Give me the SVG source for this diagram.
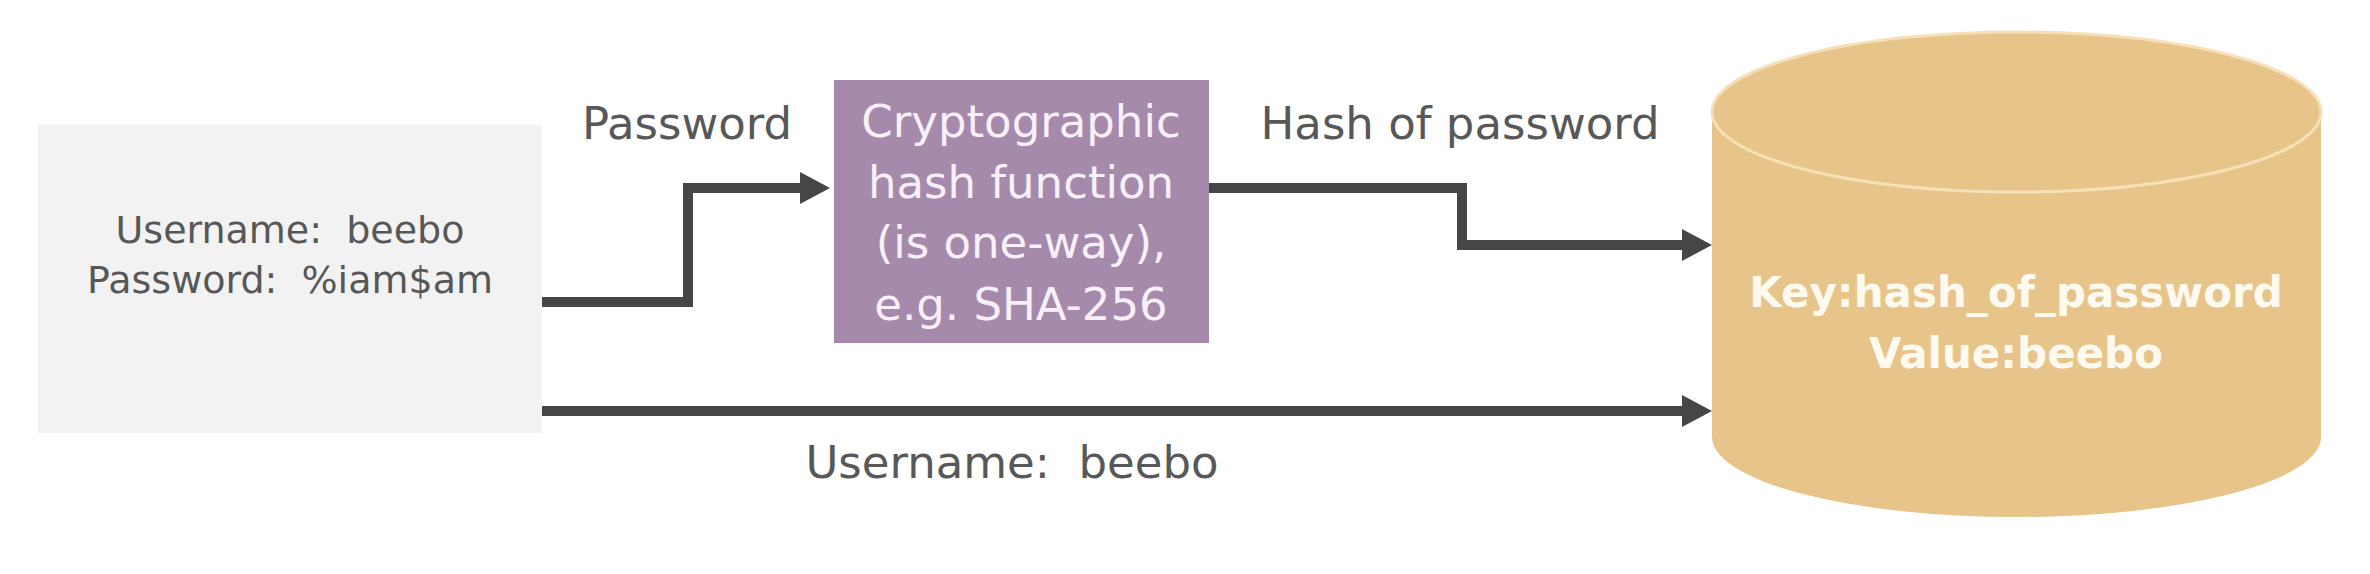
<svg xmlns="http://www.w3.org/2000/svg" width="2370" height="574" viewBox="0 0 2370 574">
  <style>
    .lbl { font-family: "DejaVu Sans", "Liberation Sans", sans-serif; font-size: 45px; fill: #585858; text-anchor: middle; }
    .box { font-family: "DejaVu Sans", "Liberation Sans", sans-serif; font-size: 38px; fill: #575757; text-anchor: middle; }
    .hash { font-family: "DejaVu Sans", "Liberation Sans", sans-serif; font-size: 45px; fill: #f8f0f8; text-anchor: middle; }
    .db { font-family: "DejaVu Sans", "Liberation Sans", sans-serif; font-size: 42px; font-weight: bold; fill: #fffaf0; text-anchor: middle; }
    .conn { fill: none; stroke: #464646; stroke-width: 10; stroke-linejoin: miter; marker-end: url(#ah); }
  </style>
  <defs>
    <marker id="ah" markerUnits="userSpaceOnUse" viewBox="0 0 30 32" markerWidth="30" markerHeight="32" refX="15" refY="16" orient="auto">
      <path d="M0,0 L30,16 L0,32 Z" fill="#464646"/>
    </marker>
  </defs>
  <rect width="2370" height="574" fill="#ffffff"/>

  <g id="credentials">
    <rect x="38" y="125" width="504" height="308" fill="#f2f2f2"/>
    <text class="box" x="290" y="243" xml:space="preserve">Username:  beebo</text>
    <text class="box" x="290" y="293" xml:space="preserve">Password:  %iam$am</text>
  </g>

  <g id="hash-function">
    <rect x="834" y="80" width="375" height="263" fill="#a68aab"/>
    <text class="hash" x="1021" y="137">Cryptographic</text>
    <text class="hash" x="1021" y="198">hash function</text>
    <text class="hash" x="1021" y="258">(is one-way),</text>
    <text class="hash" x="1021" y="320">e.g. SHA-256</text>
  </g>

  <g id="database">
    <path d="M1712,112 L1712,437 A304.5,80 0 0 0 2321,437 L2321,112 Z" fill="#e6c48a"/>
    <ellipse cx="2016.5" cy="112" rx="304.5" ry="80" fill="#e6c48a" stroke="#f7e0b6" stroke-width="3"/>
    <text class="db" x="2016" y="307">Key:hash_of_password</text>
    <text class="db" x="2016" y="368">Value:beebo</text>
  </g>

  <g id="connectors">
    <path class="conn" d="M542,302 H688 V188 H815"/>
    <path class="conn" d="M1209,188 H1462 V245 H1697"/>
    <path class="conn" d="M542,411 H1697"/>
    <text class="lbl" x="687" y="139">Password</text>
    <text class="lbl" x="1460" y="139">Hash of password</text>
    <text class="lbl" x="1012" y="478" xml:space="preserve">Username:  beebo</text>
  </g>
</svg>
